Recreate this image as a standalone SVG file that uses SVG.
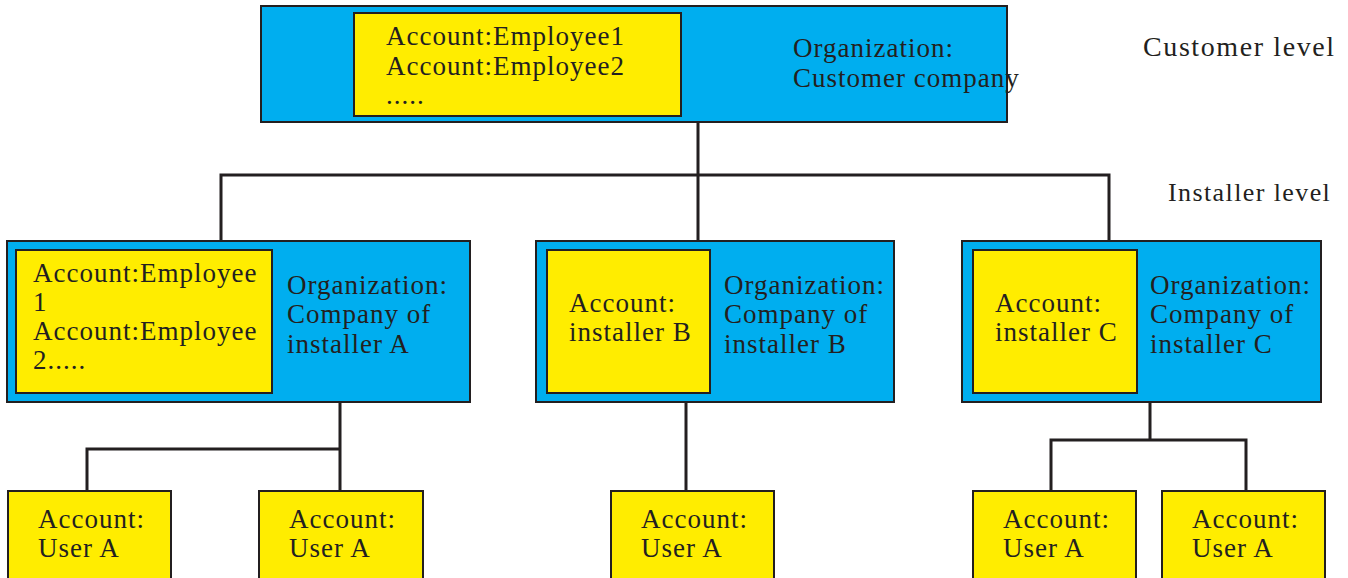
<svg xmlns="http://www.w3.org/2000/svg" width="1348" height="578" viewBox="0 0 1348 578">
<style>
.org{fill:#00AEEF;stroke:#231F20;stroke-width:2}
.acc{fill:#FFED00;stroke:#231F20;stroke-width:2}
text{font-family:"Liberation Serif","Times New Roman",serif;font-size:27px;fill:#231F20;letter-spacing:1px}
.lvl{font-size:28px;letter-spacing:1.6px}
.lvl2{font-size:26px;letter-spacing:1.4px}
.conn{fill:none;stroke:#231F20;stroke-width:3}
</style>
<rect width="1348" height="578" fill="#fff"/>
<g id="connectors" class="conn">
<path d="M698 122V175M221 241V175H1109V241M698 175V241"/>
<path d="M340 402V491M87 491V449H340"/>
<path d="M686 402V491"/>
<path d="M1150 402V440M1051 491V440H1246V491"/>
</g>
<g id="customer">
<rect class="org" x="261" y="6" width="746" height="116"/>
<rect class="acc" x="354" y="13" width="327" height="103"/>
<text x="386" y="45">Account:Employee1</text>
<text x="386" y="75">Account:Employee2</text>
<text x="386" y="104">.....</text>
<text x="793" y="57">Organization:</text>
<text x="793" y="87">Customer company</text>
</g>
<text id="customer-level" class="lvl" x="1143" y="56">Customer level</text>
<text id="installer-level" class="lvl2" x="1168" y="201">Installer level</text>
<g id="installerA">
<rect class="org" x="7" y="241" width="463" height="161"/>
<rect class="acc" x="16" y="250" width="256" height="143"/>
<text x="33" y="282">Account:Employee</text>
<text x="33" y="311">1</text>
<text x="33" y="340">Account:Employee</text>
<text x="33" y="369">2.....</text>
<text x="287" y="294">Organization:</text>
<text x="287" y="323">Company of</text>
<text x="287" y="353">installer A</text>
</g>
<g id="installerB">
<rect class="org" x="536" y="241" width="358" height="161"/>
<rect class="acc" x="547" y="250" width="163" height="143"/>
<text x="569" y="312">Account:</text>
<text x="569" y="341">installer B</text>
<text x="724" y="294">Organization:</text>
<text x="724" y="323">Company of</text>
<text x="724" y="353">installer B</text>
</g>
<g id="installerC">
<rect class="org" x="962" y="241" width="359" height="161"/>
<rect class="acc" x="973" y="250" width="164" height="143"/>
<text x="995" y="312">Account:</text>
<text x="995" y="341">installer C</text>
<text x="1150" y="294">Organization:</text>
<text x="1150" y="323">Company of</text>
<text x="1150" y="353">installer C</text>
</g>
<g id="userA1">
<rect class="acc" x="8" y="491" width="163" height="90"/>
<text x="38" y="528">Account:</text>
<text x="38" y="557">User A</text>
</g>
<g id="userA2">
<rect class="acc" x="259" y="491" width="164" height="90"/>
<text x="289" y="528">Account:</text>
<text x="289" y="557">User A</text>
</g>
<g id="userB1">
<rect class="acc" x="611" y="491" width="163" height="90"/>
<text x="641" y="528">Account:</text>
<text x="641" y="557">User A</text>
</g>
<g id="userC1">
<rect class="acc" x="973" y="491" width="163" height="90"/>
<text x="1003" y="528">Account:</text>
<text x="1003" y="557">User A</text>
</g>
<g id="userC2">
<rect class="acc" x="1162" y="491" width="163" height="90"/>
<text x="1192" y="528">Account:</text>
<text x="1192" y="557">User A</text>
</g>
</svg>
